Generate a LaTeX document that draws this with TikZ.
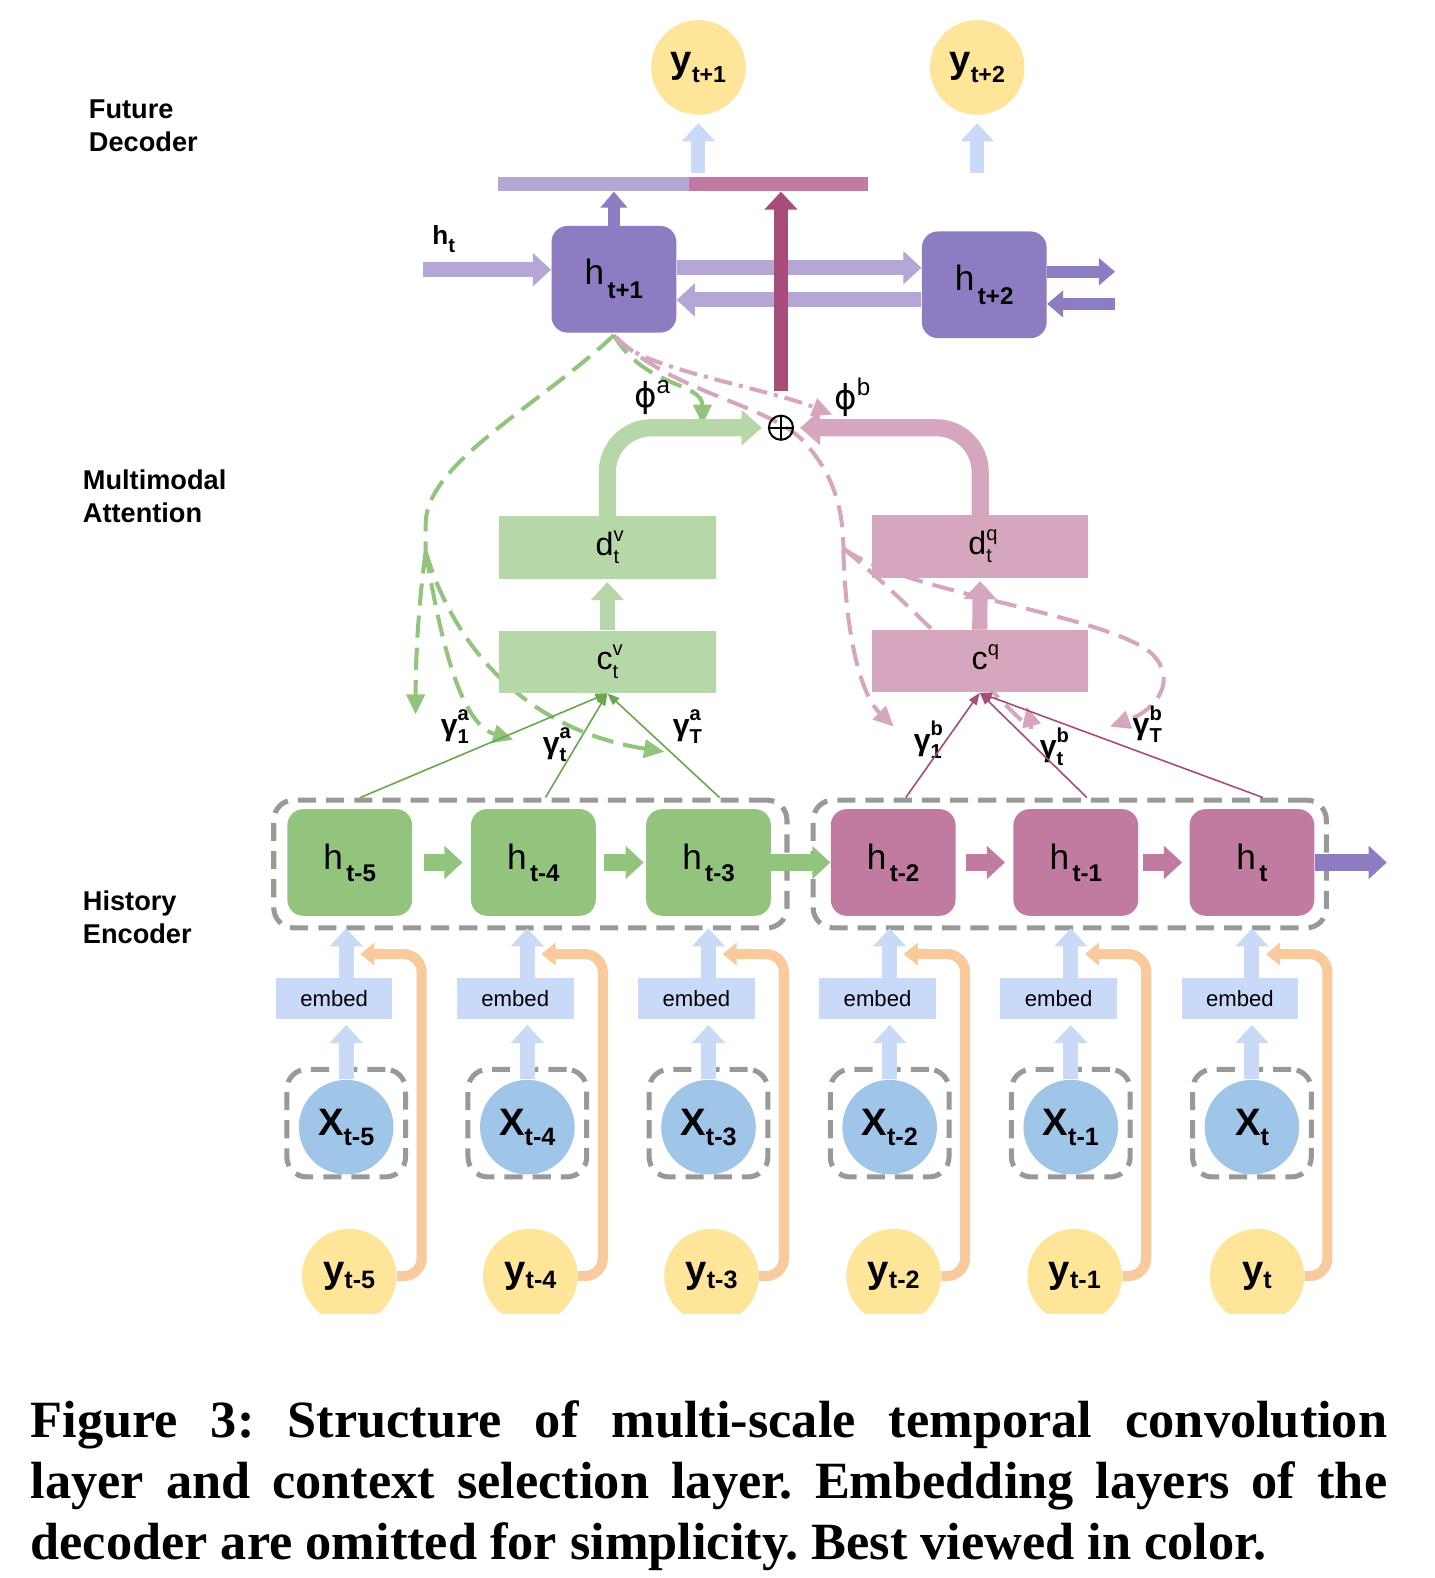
\documentclass[tikz,border=0pt]{standalone}
\usepackage{fontspec}
\setmainfont{Liberation Sans}
\newfontfamily\capfont{Liberation Serif}
\newfontfamily\dvfont{DejaVu Sans}
\usetikzlibrary{arrows.meta,calc}
\definecolor{cpurp}{HTML}{8E7CC3}
\definecolor{clpurp}{HTML}{B4A7D6}
\definecolor{cmag}{HTML}{C27BA0}
\definecolor{cdmag}{HTML}{A64D79}
\definecolor{cgreen}{HTML}{93C47D}
\definecolor{cdgreen}{HTML}{6AA84F}
\definecolor{clgreen}{HTML}{B6D7A8}
\definecolor{cpink}{HTML}{D5A6BD}
\definecolor{clblue}{HTML}{C9DAF8}
\definecolor{cblue}{HTML}{9FC5E8}
\definecolor{cyel}{HTML}{FFE599}
\definecolor{corange}{HTML}{F9CB9C}
\definecolor{cgray}{HTML}{999999}
\newcommand\myfs[1]{\fontsize{#1}{#1}\selectfont}
\newcommand\mkh[1]{{\myfs{17.5}h}\,\raisebox{-6pt}{\myfs{12}\bfseries #1}}
\newcommand\mkx[1]{{\myfs{19}\bfseries X}\raisebox{-5pt}{\myfs{12.5}\bfseries #1}}
\newcommand\mky[1]{{\myfs{19}\bfseries y}\raisebox{-3pt}{\myfs{12.5}\bfseries #1}}
\newcommand\mkg[2]{{\myfs{15}\bfseries γ}\rlap{\raisebox{7pt}{\myfs{10}\bfseries #1}}\raisebox{-4pt}{\myfs{10}\bfseries #2}}
\newcommand\mkd[3]{{\myfs{16}#1}\rlap{\raisebox{7pt}{\myfs{10}#2}}\raisebox{-4pt}{\myfs{10}#3}}
\tikzset{
  seclab/.style={anchor=north west, align=left, inner sep=0pt, font=\bfseries\fontsize{13.5}{16.5}\selectfont},
  hbx/.style={rounded corners=8pt, minimum width=62pt, minimum height=53pt, inner sep=0pt},
  rbox/.style={rectangle, minimum width=107.5pt, minimum height=31pt, inner sep=0pt},
  grp/.style={draw=cgray, line width=2.5pt, dash pattern=on 9pt off 5pt, rounded corners=10pt, inner sep=0pt},
  embbox/.style={fill=clblue, minimum width=58pt, minimum height=20.5pt, inner sep=0pt, font=\fontsize{11}{11}\selectfont},
  circ/.style={circle, minimum size=47pt, inner sep=0pt},
  blk/.style={line width=7.5pt, -{Triangle[width=16pt,length=9pt]}},
  sblk/.style={line width=6pt, -{Triangle[width=13pt,length=8pt]}},
  orng/.style={draw=corange, line width=5pt, rounded corners=9pt, -{Triangle[width=11pt,length=7pt]}},
  thinl/.style={line width=0.8pt, -{Triangle[width=4.5pt,length=6pt]}},
  gdash/.style={draw=cgreen, line width=2pt, dash pattern=on 11pt off 5pt},
  pdash/.style={draw=cpink, line width=2pt, dash pattern=on 11pt off 5pt},
  tipd/.style={-{Triangle[width=9pt,length=10pt]}},
}
\begin{document}
\begin{tikzpicture}[x=0.5pt,y=-0.5pt]
\useasboundingbox (0,0) rectangle (1425,1568);
\fill[white] (0,0) rectangle (1425,1568);

% section labels
\node[seclab] (lfd) at (88,99) {Future\\Decoder};
\node[seclab] (lma) at (82,466) {Multimodal\\Attention};
\node[seclab] (lhe) at (82,885) {History\\Encoder};

% group boxes
\node[grp, minimum width=255pt, minimum height=63.5pt] (grpA) at (527,858.5) {};
\node[grp, minimum width=255pt, minimum height=63.5pt] (grpB) at (1063,858.5) {};

% dashed attention curves (drawn below boxes)
\coordinate (gs) at (423,548);
\coordinate (ps) at (838,545);
\draw[gdash] (610,333) .. controls (540,400) and (423,460) .. (423,520) -- (gs);
\draw[gdash,tipd] (gs) .. controls (416,600) and (413,650) .. (413,710);
\draw[gdash,tipd] (gs) .. controls (440,650) and (460,720) .. (510,735);
\draw[gdash,tipd] (gs) .. controls (450,640) and (520,725) .. (660,747);
\draw[gdash,tipd] (610,333) .. controls (640,385) and (698,380) .. (698,422);
\draw[pdash, dash pattern=on 9pt off 3.5pt on 2pt off 3.5pt, tipd] (612,335) .. controls (630,365) and (760,385) .. (827,412);
\draw[pdash] (612,335) .. controls (670,390) and (755,400) .. (795,435) .. controls (830,470) and (838,510) .. (ps);
\draw[pdash,tipd] (ps) .. controls (840,630) and (855,690) .. (888,722);
\draw[pdash,tipd] (ps) .. controls (930,620) and (1030,740) .. (1020,702);
\draw[pdash,tipd] (ps) .. controls (900,590) and (1100,610) .. (1145,650) .. controls (1170,675) and (1150,705) .. (1103,722);

% future decoder
\node[circ, fill=cyel] (yp1) at (694,67) {{\myfs{19}\bfseries y}\raisebox{-5pt}{\myfs{11.5}\bfseries t+1}};
\node[circ, fill=cyel] (yp2) at (971,67) {{\myfs{19}\bfseries y}\raisebox{-5pt}{\myfs{11.5}\bfseries t+2}};
\node[fill=clpurp, minimum width=95pt, minimum height=7pt, inner sep=0pt] (barL) at (590,183) {};
\node[fill=cmag, minimum width=88.5pt, minimum height=7pt, inner sep=0pt] (barR) at (773.5,183) {};
\node[hbx, fill=cpurp] (hp1) at (610,277.5) {{\myfs{17.5}h}\,\raisebox{-7pt}{\myfs{12}\bfseries t+1}};
\node[hbx, fill=cpurp] (hp2) at (978,283) {{\myfs{17.5}h}\,\raisebox{-7pt}{\myfs{12}\bfseries t+2}};
\node[inner sep=0pt] (htl) at (441,238) {{\myfs{13}\bfseries h}\raisebox{-4pt}{\myfs{10}\bfseries t}};
\coordinate (htin) at (420,268);
\coordinate (o1) at (1108,270);
\coordinate (o2) at (1108,302);
\draw[blk, draw=clblue, line width=7pt, shorten <=2pt, shorten >=4pt] (barL.north -| yp1.south) -- (yp1.south);
\draw[blk, draw=clblue, line width=7pt, shorten <=2pt, shorten >=4pt] (yp2.south |- barL.north) -- (yp2.south);
\draw[sblk, draw=cpurp] (hp1.north) -- (hp1.north |- barL.south);
\draw[blk, draw=clpurp] (htin) -- (htin -| hp1.west);
\draw[blk, draw=clpurp] (hp1.east |- 0,266) -- (hp2.west |- 0,266);
\draw[blk, draw=clpurp] (hp2.west |- 0,298) -- (hp1.east |- 0,298);
\draw[sblk, draw=cpurp] (hp2.east |- o1) -- (o1);
\draw[sblk, draw=cpurp] (o2) -- (hp2.east |- o2);

% attention
\node[circle, draw=black, line width=1pt, minimum size=12pt, inner sep=0pt,
  path picture={\draw[line width=0.8pt] (path picture bounding box.north) -- (path picture bounding box.south)
  (path picture bounding box.west) -- (path picture bounding box.east);}] (plus) at (776,425) {};
\draw[line width=7pt, draw=cdmag, -{Triangle[width=16pt,length=9pt]}, shorten <=11.5pt] (plus.north) -- (plus.north |- barR.south);
\node[inner sep=0pt] (phia) at (648,395) {{\dvfont\myfs{17}ϕ}\raisebox{7pt}{\myfs{12}a}};
\node[inner sep=0pt] (phib) at (847,395) {{\dvfont\myfs{17}ϕ}\raisebox{7pt}{\myfs{12}b}};
\node[rbox, fill=clgreen] (dv) at (603.5,544) {\mkd{d}{v}{t}};
\node[rbox, fill=clgreen] (cv) at (603.5,657.5) {\mkd{c}{v}{t}};
\node[rbox, fill=cpink] (dq) at (974,543) {\mkd{d}{q}{t}};
\node[rbox, fill=cpink] (cq) at (973.5,657) {\mkd{c}{q}{}};
\draw[line width=8.5pt, draw=clgreen, -{Triangle[width=17pt,length=10pt]}, rounded corners=22pt, shorten >=3pt] (dv.north) |- (plus.west);
\draw[line width=8.5pt, draw=cpink, -{Triangle[width=17pt,length=10pt]}, rounded corners=22pt, shorten >=3pt] (dq.north) |- (plus.east);
\draw[blk, draw=clgreen, shorten >=1.5pt] (cv.north) -- (dv.south);
\draw[blk, draw=cpink, shorten >=1.5pt] (cq.north) -- (dq.south);

\node (g1a) at (452,722) {\mkg{a}{1}};
\node (gta) at (551,740) {\mkg{a}{t}};
\node (gTa) at (683,722) {\mkg{a}{T}};
\node (g1b) at (922,735) {\mkg{b}{1}};
\node (gtb) at (1045,742) {\mkg{b}{t}};
\node (gTb) at (1140,720) {\mkg{b}{T}};

% history encoder
\node[hbx, fill=cgreen] (hb1) at (347.5,857) {\mkh{t-5}};
\node[hbx, fill=cgreen] (hb2) at (530,857) {\mkh{t-4}};
\node[hbx, fill=cgreen] (hb3) at (704,857) {\mkh{t-3}};
\node[hbx, fill=cmag] (hb4) at (887.5,857) {\mkh{t-2}};
\node[hbx, fill=cmag] (hb5) at (1069,857) {\mkh{t-1}};
\node[hbx, fill=cmag] (hb6) at (1244,857) {\mkh{t}};
\coordinate (hout) at (1378,857);
\draw[blk, draw=cgreen, line width=8pt, shorten <=5.5pt, shorten >=4pt] (hb1) -- (hb2);
\draw[blk, draw=cgreen, line width=8pt, shorten <=4pt, shorten >=1pt] (hb2) -- (hb3);
\draw[blk, draw=cgreen, line width=8pt] (hb3) -- (hb4);
\draw[blk, draw=cmag, line width=8pt, shorten <=5pt, shorten >=4pt] (hb4) -- (hb5);
\draw[blk, draw=cmag, line width=8pt, shorten <=2pt, shorten >=3.5pt] (hb5) -- (hb6);
\draw[blk, draw=cpurp, line width=8pt] (hb6) -- (hout);

\draw[thinl, draw=cdgreen] (grpA.north -| 358,0) -- (cv.south);
\draw[thinl, draw=cdgreen] (grpA.north -| 542,0) -- (cv.south);
\draw[thinl, draw=cdgreen] (grpA.north -| 715,0) -- (cv.south);
\draw[thinl, draw=cdmag] (grpB.north -| 900,0) -- (cq.south);
\draw[thinl, draw=cdmag] (grpB.north -| 1080,0) -- (cq.south);
\draw[thinl, draw=cdmag] (grpB.north -| 1255,0) -- (cq.south);

% inputs
\begin{scope}
\clip (0,0) rectangle (1425,1305);
\foreach \i/\yx/\lab in {1/347/t-5, 2/527/t-4, 3/707/t-3, 4/888/t-2, 5/1068/t-1, 6/1249/t}
  \node[circ, fill=cyel] (yc\i) at (\yx,1268) {\mky{\lab}};
\end{scope}
\foreach \i/\xx/\lab in {1/344/t-5, 2/524/t-4, 3/704/t-3, 4/884/t-2, 5/1064/t-1, 6/1244/t} {
  \node[grp, minimum width=59pt, minimum height=53.5pt] (xb\i) at (\xx,1116) {};
  \node[circ, fill=cblue] (x\i) at (\xx,1120) {\mkx{\lab}};
  \node[embbox] (e\i) at (\xx-12,992.5) {embed};
  \coordinate (ot\i) at (\xx+14,948);
  \draw[blk, draw=clblue, line width=7.5pt, shorten >=2.5pt] (x\i.north) -- (e\i.south -| x\i.north);
  \draw[blk, draw=clblue, line width=7.5pt, shorten >=6pt] (e\i.north -| x\i.north) -- (hb\i.south -| x\i.north);
  \draw[orng] (yc\i.east) -| ($(ot\i)+(61,0)$) -- (ot\i);
}

% caption
\node[anchor=north west, inner sep=0pt, align=left, font=\capfont\bfseries\fontsize{26}{30.5}\selectfont\frenchspacing] (cap) at (30,1391)
 {\makebox[674pt][s]{Figure 3: Structure of multi-scale temporal convolution}\\
  \makebox[674pt][s]{layer and context selection layer. Embedding layers of the}\\
  decoder are omitted for simplicity. Best viewed in color.};
\end{tikzpicture}
\end{document}
